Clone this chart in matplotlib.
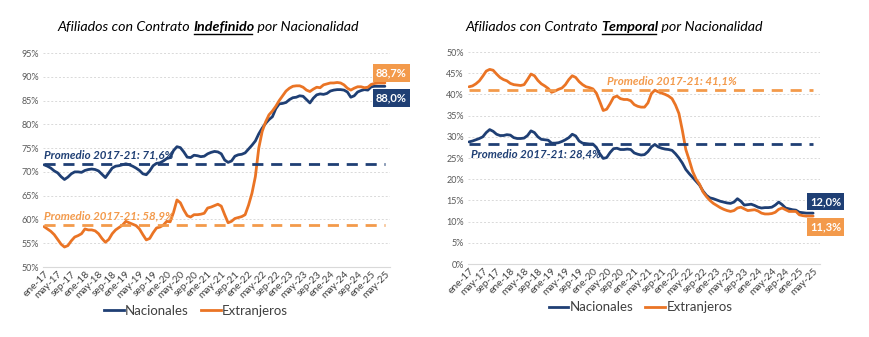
import matplotlib
matplotlib.use("Agg")
import matplotlib.pyplot as plt
from matplotlib.lines import Line2D
import numpy as np

plt.rcParams['font.family'] = ['Lato', 'DejaVu Sans']

# ---- data (monthly, ene-17 .. may-25) ----
indef_nac = [71.5, 71.2, 70.8, 70.2, 69.8, 69.0, 68.4, 68.9, 69.6, 70.0, 70.0, 69.9,
             70.3, 70.5, 70.6, 70.5, 70.2, 69.5, 68.8, 69.8, 70.8, 71.2, 71.3, 71.5,
             71.7, 71.5, 71.2, 70.8, 70.3, 69.6, 69.4, 70.2, 71.3, 71.8, 71.9, 72.3,
             72.8, 73.0, 74.5, 75.3, 75.1, 74.2, 73.1, 73.0, 73.5, 73.4, 73.2, 73.3,
             73.8, 74.1, 74.3, 74.2, 73.8, 72.5, 72.0, 72.3, 73.3, 73.6, 73.7, 74.0,
             74.8, 75.6, 76.5, 78.0, 79.2, 80.2, 81.0, 81.6, 83.3, 84.3, 84.4, 84.6,
             85.2, 85.6, 85.7, 86.0, 85.9, 85.2, 84.5, 85.5, 86.2, 86.4, 86.3, 86.5,
             87.0, 87.2, 87.3, 87.3, 87.2, 86.8, 85.7, 86.0, 86.8, 87.1, 87.3, 87.2,
             87.9, 88.0, 88.0, 88.0, 88.0]
indef_ext = [58.5, 58.0, 57.5, 56.8, 55.8, 54.8, 54.2, 54.5, 55.5, 56.3, 56.6, 57.0,
             58.0, 57.8, 57.8, 57.6, 57.0, 56.0, 55.2, 55.8, 57.0, 57.8, 58.3, 58.8,
             59.6, 59.3, 59.0, 58.7, 58.0, 56.8, 55.7, 56.0, 57.2, 58.2, 58.4, 58.8,
             59.6, 59.5, 61.5, 64.1, 63.5, 62.0, 60.8, 60.5, 61.0, 61.0, 61.1, 61.3,
             62.4, 62.6, 62.9, 63.2, 62.8, 61.0, 59.3, 59.6, 60.2, 60.4, 60.6, 61.0,
             63.0, 65.5, 69.0, 75.0, 78.5, 80.5, 82.0, 82.8, 83.8, 85.0, 86.0, 87.0,
             87.6, 88.0, 88.1, 88.1, 87.8, 87.2, 86.9, 87.4, 87.8, 87.7, 88.3, 88.5,
             88.7, 88.7, 88.8, 88.7, 88.3, 87.6, 87.2, 87.6, 87.9, 87.9, 87.7, 87.8,
             88.4, 88.6, 88.7, 88.7, 88.7]
temp_nac = [28.8, 29.0, 29.3, 29.6, 30.0, 31.0, 31.7, 31.3, 30.6, 30.3, 30.3, 30.5,
            30.4, 29.8, 29.6, 29.6, 29.7, 30.3, 31.4, 31.0, 30.0, 29.4, 29.3, 29.2,
            28.5, 28.5, 28.6, 28.9, 29.3, 29.8, 30.6, 30.2, 29.0, 28.5, 28.4, 28.3,
            28.3, 27.5, 26.0, 24.9, 25.1, 26.3, 27.2, 27.3, 27.0, 27.0, 27.1, 27.0,
            26.2, 25.9, 25.7, 25.8, 26.5, 27.6, 28.2, 27.6, 27.3, 27.1, 27.0, 26.8,
            26.0, 25.0, 23.8, 22.3, 21.3, 20.4, 19.5, 18.6, 17.2, 16.2, 15.6, 15.4,
            15.1, 14.8, 14.6, 14.4, 14.3, 14.6, 15.4, 14.8, 13.9, 14.0, 14.1, 13.8,
            13.4, 13.2, 13.3, 13.3, 13.4, 13.9, 14.6, 14.0, 13.2, 13.0, 12.8, 12.7,
            12.2, 12.1, 12.0, 12.0, 12.0]
temp_ext = [41.8, 42.0, 42.5, 43.2, 44.3, 45.5, 45.9, 45.7, 44.8, 44.0, 43.5, 43.2,
            42.6, 42.3, 42.2, 42.1, 42.3, 43.5, 44.8, 44.4, 43.3, 42.5, 42.0, 41.4,
            40.5, 40.8, 41.2, 41.5, 42.3, 43.5, 44.4, 44.0, 43.0, 42.3, 41.8, 41.6,
            41.3, 40.3, 38.3, 36.2, 36.5, 37.8, 39.3, 39.6, 39.0, 38.8, 38.8, 38.5,
            37.6, 37.2, 37.0, 37.0, 38.0, 40.2, 41.0, 40.6, 40.3, 40.0, 39.6, 39.0,
            37.5, 35.5, 31.5, 27.0, 24.5, 21.8, 20.0, 18.8, 17.0, 15.9, 15.0, 14.3,
            13.8, 13.3, 12.9, 12.6, 12.4, 12.6, 13.2, 13.4, 13.0, 12.6, 12.7, 12.8,
            12.5, 12.0, 11.8, 11.8, 11.9, 12.2, 12.9, 13.2, 12.8, 12.4, 12.4, 12.4,
            11.6, 11.4, 11.3, 11.3, 11.3]
tick_labels = ['ene-17', 'may-17', 'sep-17', 'ene-18', 'may-18', 'sep-18', 'ene-19',
               'may-19', 'sep-19', 'ene-20', 'may-20', 'sep-20', 'ene-21', 'may-21',
               'sep-21', 'ene-22', 'may-22', 'sep-22', 'ene-23', 'may-23', 'sep-23',
               'ene-24', 'may-24', 'sep-24', 'ene-25', 'may-25']
avg_indef = {'nac': 71.6, 'ext': 58.9}
avg_temp = {'nac': 28.4, 'ext': 41.1}
series_names = ['Nacionales', 'Extranjeros']

C_NAC = '#1f3f74'
C_EXT = '#ea7425'
C_EXT_L = '#f39a4b'
C_TXT = '#404040'
DASH = (4, 2.8)

W, H = 869, 337
fig = plt.figure(figsize=(W / 100, H / 100), dpi=100)


def px_axes(l, t, r, b):
    return fig.add_axes([l / W, 1 - b / H, (r - l) / W, (b - t) / H])


ax1 = px_axes(43, 53, 390, 267)
ax2 = px_axes(468, 52, 820, 264)


def fmt(v):
    return f"{v:.1f}".replace('.', ',') + '%'


def style(ax, ylim, ystep, xmax):
    n = len(indef_nac)
    ax.set_xlim(-0.3, xmax)
    ax.set_ylim(*ylim)
    yt = np.arange(ylim[0], ylim[1] + 0.1, ystep)
    ax.set_yticks(yt)
    ax.set_yticklabels([f'{int(v)}%' for v in yt], fontsize=6.5, color='#595959')
    ax.set_xticks(np.arange(0, n, 4))
    ax.set_xticklabels(tick_labels, rotation=45, ha='right', rotation_mode='anchor',
                       fontsize=7.3, color=C_TXT)
    ax.tick_params(axis='both', length=0, pad=3)
    ax.tick_params(axis='x', pad=2)
    for s in ['top', 'right', 'left']:
        ax.spines[s].set_visible(False)
    ax.spines['bottom'].set_color('#d9d9d9')
    ax.spines['bottom'].set_linewidth(0.8)
    ax.grid(axis='y', color='#d9d9d9', linestyle=(0, (2, 2)), linewidth=0.7)
    ax.set_axisbelow(True)


def end_label(ax, xpos, y, val, color):
    ax.text(xpos, y, fmt(val), color='white', fontsize=8, fontweight='bold',
            ha='left', va='center', zorder=5,
            bbox=dict(boxstyle='square,pad=0.3', fc=color, ec='none'), clip_on=False)


x = np.arange(len(indef_nac))

style(ax1, (50, 95), 5, 101.5)
ax1.plot(x, indef_nac, color=C_NAC, lw=2, solid_capstyle='round')
ax1.plot(x, indef_ext, color=C_EXT, lw=2, solid_capstyle='round')
ax1.plot([0, 100], [avg_indef['nac']] * 2, color=C_NAC, lw=2, dashes=DASH)
ax1.plot([0, 100], [avg_indef['ext']] * 2, color=C_EXT_L, lw=2, dashes=DASH)
ax1.text(0, avg_indef['nac'] + 0.8, "Promedio 2017-21: " + fmt(avg_indef['nac']),
         color=C_NAC, fontsize=8.3, fontweight='bold', style='italic', va='bottom')
ax1.text(0, avg_indef['ext'] + 0.8, "Promedio 2017-21: " + fmt(avg_indef['ext']),
         color=C_EXT_L, fontsize=8.3, fontweight='bold', style='italic', va='bottom')
end_label(ax1, 97.4, indef_ext[-1] + 2.05, indef_ext[-1], C_EXT_L)
end_label(ax1, 97.4, indef_nac[-1] - 2.5, indef_nac[-1], C_NAC)

style(ax2, (0, 50), 5, 102.0)
ax2.plot(x, temp_nac, color=C_NAC, lw=2, solid_capstyle='round')
ax2.plot(x, temp_ext, color=C_EXT, lw=2, solid_capstyle='round')
ax2.plot([0, 100], [avg_temp['nac']] * 2, color=C_NAC, lw=2, dashes=DASH)
ax2.plot([0, 100], [avg_temp['ext']] * 2, color=C_EXT_L, lw=2, dashes=DASH)
ax2.text(0.5, avg_temp['nac'] - 1.2, "Promedio 2017-21: " + fmt(avg_temp['nac']),
         color=C_NAC, fontsize=8.3, fontweight='bold', style='italic', va='top')
ax2.text(40, avg_temp['ext'] + 0.8, "Promedio 2017-21: " + fmt(avg_temp['ext']),
         color=C_EXT_L, fontsize=8.3, fontweight='bold', style='italic', va='bottom')
end_label(ax2, 99.1, temp_nac[-1] + 2.77, temp_nac[-1], C_NAC)
end_label(ax2, 99.1, temp_ext[-1] - 2.65, temp_ext[-1], C_EXT_L)

for ax, cx in ((ax1, 0.441), (ax2, 0.49)):
    handles = [Line2D([], [], color=C_NAC, lw=2), Line2D([], [], color=C_EXT, lw=2)]
    ax.legend(handles, series_names, loc='center', bbox_to_anchor=(cx, -0.205), ncol=2,
              frameon=False, fontsize=9.5, handlelength=1.5, handletextpad=0.1,
              columnspacing=0.9, labelcolor=C_TXT)

# ---- titles with bold underlined word ----
fig.canvas.draw()
renderer = fig.canvas.get_renderer()


def title(cx, cy, pre, key, post):
    kw = dict(fontsize=10.3, style='italic', color='black', va='baseline')
    parts = [(pre, 'normal'), (key, 'bold'), (post, 'normal')]
    objs = []
    widths = []
    for s, w in parts:
        t = fig.text(0, 0, s, fontweight=w, **kw)
        bb = t.get_window_extent(renderer)
        widths.append(bb.width)
        objs.append(t)
    total = sum(widths)
    xs = cx - total / 2
    for t, w in zip(objs, widths):
        t.set_position((xs / W, 1 - cy / H))
        xs += w
    x0 = (cx - total / 2 + widths[0]) / W
    x1 = (cx - total / 2 + widths[0] + widths[1]) / W
    yl = 1 - (cy + 2.5) / H
    fig.add_artist(Line2D([x0 + 1 / W, x1 - 2 / W], [yl, yl], color='black', lw=1.0,
                          transform=fig.transFigure))


title(208, 31, 'Afiliados con Contrato ', 'Indefinido', ' por Nacionalidad')
title(614, 31, 'Afiliados con Contrato ', 'Temporal', ' por Nacionalidad')

fig.savefig('out.png', dpi=100, facecolor='white')
